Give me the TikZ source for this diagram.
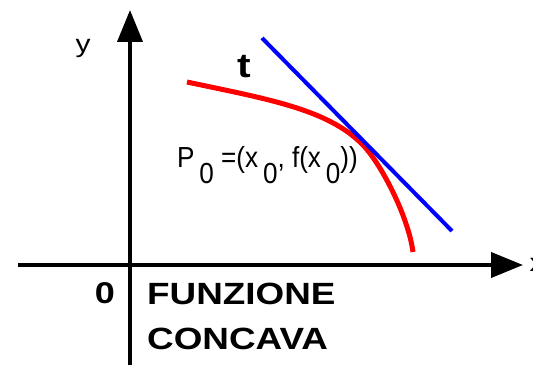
\documentclass[tikz,border=0pt]{standalone}
\usepackage{fontspec}
\usetikzlibrary{arrows.meta}
\setmainfont{Liberation Sans}
\newfontfamily\widesans[FakeStretch=1.2]{Liberation Sans}
\newfontfamily\narrowsans[FakeStretch=0.9]{Liberation Sans}
\newcommand{\lowsub}[1]{\,\raisebox{-16pt}{#1}}

\begin{document}
\begin{tikzpicture}[
    x=1pt, y=1pt, font=\widesans,
    axis/.style={line width=4pt, -{Triangle[length=32pt,width=25pt]}},
    curve/.style={red, line width=5pt},
    tangent/.style={blue, line width=4pt}]
  \useasboundingbox (0,0) rectangle (533,365);

  % axes
  \draw[axis] (18,100) -- (523,100);
  \draw[axis] (130,0) -- (130,355);
  \node[font=\widesans\fontsize{25}{25}\selectfont, anchor=west] (xlab) at (526,100) {x};
  \node[font=\widesans\fontsize{25}{25}\selectfont] (ylab) at (83,317) {y};
  \node[font=\widesans\bfseries\fontsize{30}{30}\selectfont] (orig) at (105,72) {0};

  % the concave function and its tangent
  \draw[curve] (187,283) .. controls (267,266) and (327,256) .. (362,221)
               .. controls (380,203) and (408,150) .. (413,113);
  \coordinate (t1) at (262,327);
  \coordinate (t2) at (452,134);
  \draw[tangent] (t1) -- (t2);
  \node[font=\widesans\bfseries\fontsize{34}{34}\selectfont] (tlab) at (244,298) {t};

  % labels
  \node[font=\narrowsans\fontsize{29}{29}\selectfont, anchor=base west, inner sep=0pt] (pnull) at (177,198)
       {P\lowsub{0} =(x\lowsub{0}, f(x\lowsub{0}))};
  \node[font=\widesans\bfseries\fontsize{30.7}{45}\selectfont, anchor=north west,
        align=left, inner sep=0pt] (title) at (147,82) {FUNZIONE\\CONCAVA};
\end{tikzpicture}
\end{document}
